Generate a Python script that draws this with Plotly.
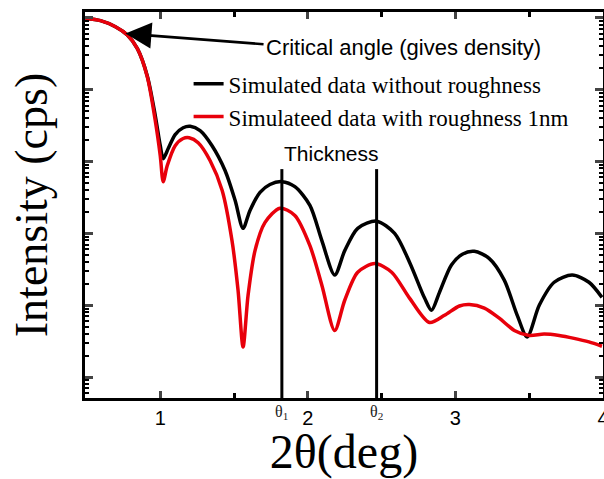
import numpy as np
import plotly.graph_objects as go

# ---- data (intensities as log10 values) ----
black_x = [0.493, 0.595, 0.696, 0.777, 0.845, 0.912, 0.966, 1.000, 1.020, 1.054, 1.101, 1.155,
           1.203, 1.270, 1.351, 1.439, 1.507, 1.561, 1.608, 1.676, 1.743, 1.824, 1.912, 2.014,
           2.095, 2.182, 2.250, 2.338, 2.466, 2.588, 2.689, 2.791, 2.838, 2.892, 2.973, 3.047,
           3.128, 3.230, 3.331, 3.419, 3.486, 3.568, 3.669, 3.791, 3.905, 3.993]
black_log = [4.99, 4.96, 4.875, 4.76, 4.57, 4.19, 3.64, 3.22, 3.04, 3.18, 3.375, 3.47,
             3.49, 3.43, 3.22, 2.875, 2.46, 2.07, 2.32, 2.57, 2.68, 2.72, 2.65, 2.39,
             1.90, 1.42, 1.76, 2.07, 2.17, 2.00, 1.60, 1.10, 0.93, 1.18, 1.56, 1.71,
             1.75, 1.65, 1.35, 0.86, 0.56, 1.00, 1.32, 1.42, 1.32, 1.11]

red_x = [0.493, 0.595, 0.696, 0.777, 0.845, 0.912, 0.966, 1.000, 1.020, 1.047, 1.101, 1.155,
         1.196, 1.257, 1.338, 1.419, 1.486, 1.527, 1.561, 1.595, 1.642, 1.709, 1.811, 1.912,
         2.014, 2.095, 2.182, 2.250, 2.338, 2.453, 2.568, 2.689, 2.824, 2.926, 3.027, 3.095,
         3.196, 3.297, 3.399, 3.500, 3.601, 3.703, 3.804, 3.905, 3.993]
red_log = [4.99, 4.96, 4.875, 4.76, 4.57, 4.18, 3.57, 3.08, 2.72, 2.94, 3.22, 3.32,
           3.33, 3.26, 3.01, 2.60, 1.90, 1.21, 0.42, 1.14, 1.76, 2.15, 2.35, 2.25,
           1.83, 1.28, 0.65, 1.07, 1.46, 1.58, 1.46, 1.10, 0.76, 0.86, 0.99, 1.01,
           0.96, 0.82, 0.65, 0.58, 0.60, 0.58, 0.54, 0.49, 0.43]

x_ticks = [1, 2, 3, 4]
x_minor = [1.5, 2.5, 3.5]
theta_pos = [1.824, 2.466]
theta_labels = ["θ<sub>1</sub>", "θ<sub>2</sub>"]
names = ["Simulated data without roughness", "Simulateed data with roughness 1nm"]
y_minor = [k * 10.0 ** d for d in range(-1, 6) for k in range(2, 10)]

black_y = np.power(10.0, black_log)
red_y = np.power(10.0, red_log)

fig = go.Figure()
fig.add_trace(go.Scatter(x=black_x, y=black_y, mode="lines", name=names[0],
                         line=dict(color="black", width=3.5, shape="spline", smoothing=0.8)))
fig.add_trace(go.Scatter(x=red_x, y=red_y, mode="lines", name=names[1],
                         line=dict(color="#e8000b", width=3.5, shape="spline", smoothing=0.8)))

# thickness lines
for tp, tl in zip(theta_pos, theta_labels):
    fig.add_shape(type="line", xref="x", yref="paper", x0=tp, x1=tp, y0=0, y1=0.593,
                  line=dict(color="black", width=3))
    fig.add_annotation(x=tp, xref="x", y=-0.008, yref="paper", yanchor="top", text=tl,
                       showarrow=False, font=dict(family="Liberation Serif", size=16, color="#222"))

fig.add_annotation(x=2.16, xref="x", y=3.11, yref="y", text="Thickness",
                   showarrow=False, font=dict(family="Liberation Sans", size=21, color="black"))

# critical angle arrow (log axis: annotation y in log10 units)
fig.add_annotation(x=0.764, xref="x", y=4.78, yref="y", ax=1.71, axref="x",
                   ay=4.63, ayref="y", text="", showarrow=True, arrowhead=2,
                   arrowsize=2.0, arrowwidth=2.6, arrowcolor="black")
fig.add_annotation(x=1.705, xref="x", y=4.58, yref="y", xanchor="left", text="Critical angle (gives density)",
                   showarrow=False, font=dict(family="Liberation Sans", size=22, color="black"))

fig.update_layout(
    width=604, height=479,
    margin=dict(l=85, r=1, t=12, b=81),
    paper_bgcolor="white", plot_bgcolor="white",
    showlegend=True,
    legend=dict(x=0.2, y=0.87, xanchor="left", yanchor="top",
                font=dict(family="Liberation Serif", size=23, color="black"),
                bgcolor="rgba(0,0,0,0)", tracegroupgap=0, itemwidth=30),
    xaxis=dict(range=[0.49, 4.0], tickvals=x_ticks, ticks="inside", ticklen=7, tickwidth=2.5,
               showline=True, linewidth=3, linecolor="black", mirror="ticks", showgrid=False,
               zeroline=False, ticklabeloverflow="allow", automargin=False,
               tickfont=dict(family="Liberation Sans", size=20, color="black"),
               minor=dict(tickvals=x_minor, ticks="inside", ticklen=5, tickwidth=2.5, tickcolor="black"),
               title=dict(text="2θ(deg)", font=dict(family="Liberation Serif", size=48, color="black"),
                          standoff=0)),
    yaxis=dict(type="log", range=[-0.29, 5.08], dtick=1, ticks="inside", ticklen=8, tickwidth=2.5,
               showticklabels=False, showline=True, linewidth=3, linecolor="black", mirror="ticks",
               showgrid=False, zeroline=False, automargin=False,
               minor=dict(tickvals=y_minor, ticks="inside", ticklen=4, tickwidth=2, tickcolor="black"),
               title=dict(text="Intensity (cps)", font=dict(family="Liberation Serif", size=46, color="black"),
                          standoff=20)),
)

fig.write_html("out.html")
